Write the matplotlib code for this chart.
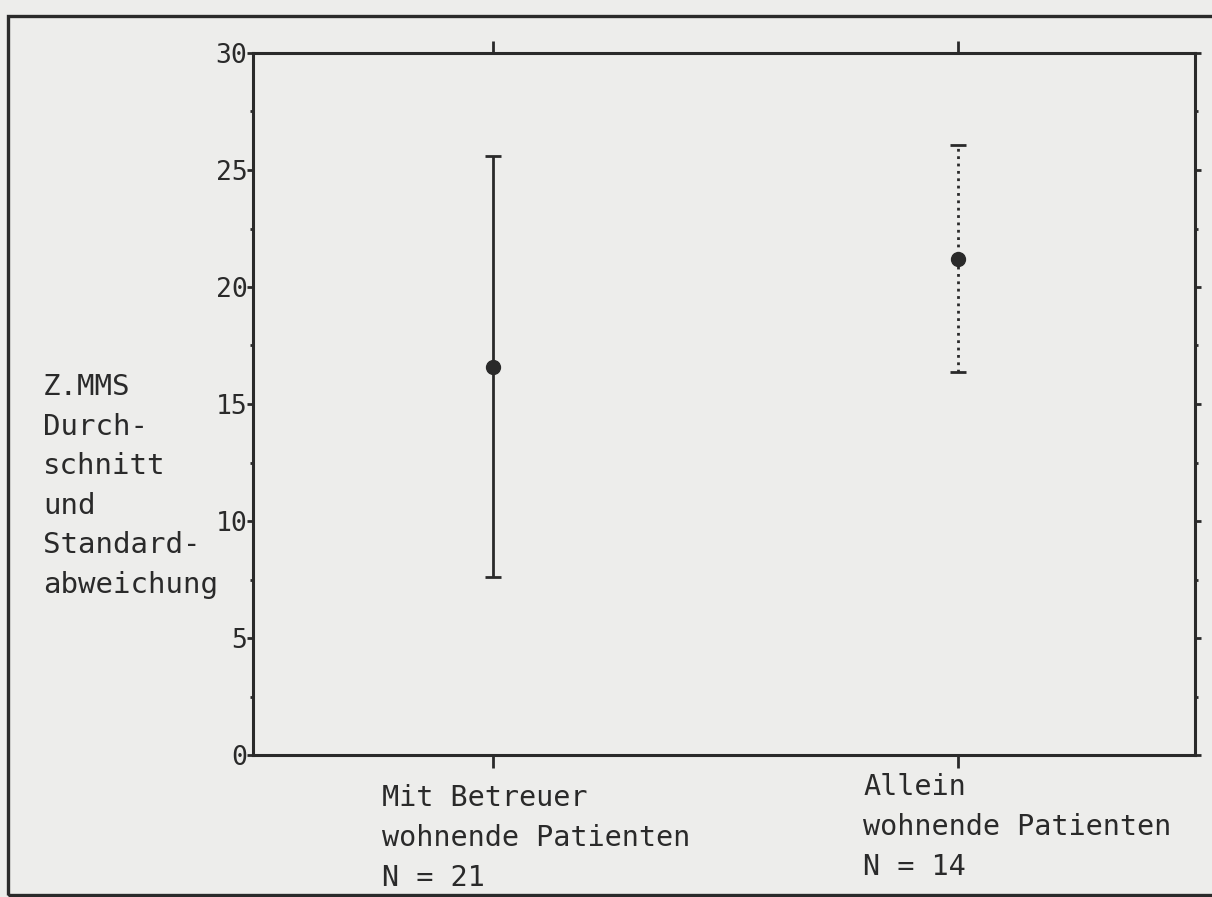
import matplotlib
matplotlib.use('Agg')
import matplotlib.pyplot as plt
from matplotlib.patches import Rectangle

# data
groups = ['Mit Betreuer\nwohnende Patienten\nN = 21',
          'Allein\nwohnende Patienten\nN = 14']
means = [16.6, 21.2]
sds = [9.0, 4.85]
y_ticks = [0, 5, 10, 15, 20, 25, 30]
y_title = ['Z.MMS', 'Durch-', 'schnitt', 'und', 'Standard-', 'abweichung']

W, H = 1212, 897
paper = '#ededeb'
ink = '#2a2a2a'
font = 'DejaVu Sans Mono'

fig = plt.figure(figsize=(W / 100, H / 100), dpi=100, facecolor=paper)
ax = fig.add_axes([253 / W, 1 - 755 / H, (1195 - 253) / W, (755 - 53) / H])
ax.set_facecolor(paper)

xs = [1, 2]
styles = ['-', ':']
for x, m, s, ls in zip(xs, means, sds, styles):
    eb = ax.errorbar(x, m, yerr=s, fmt='o', color=ink, ms=10, capsize=6,
                     capthick=2, elinewidth=2)
    eb[2][0].set_linestyle(ls)

ax.set_xlim(0.484, 2.51)
ax.set_ylim(0, 30)
ax.set_yticks(y_ticks)
ax.set_yticks([v + 2.5 for v in y_ticks[:-1]], minor=True)
ax.set_xticks(xs)
ax.set_xticklabels([])

for sp in ax.spines.values():
    sp.set_linewidth(2.2)
    sp.set_color(ink)

ax.tick_params(axis='y', which='major', direction='out', length=4, width=2,
               color=ink, labelsize=19, labelcolor=ink, pad=0, right=True)
ax.tick_params(axis='y', which='minor', direction='out', length=2, width=2,
               color=ink, right=True)
ax.tick_params(axis='x', which='major', direction='out', length=9, width=2,
               color=ink, top=True)
for lab in ax.get_yticklabels():
    lab.set_family(font)

# left title, one line at a time
for i, line in enumerate(y_title):
    fig.text(43 / W, 1 - (387 + 39.6 * i) / H, line, fontsize=21,
             family=font, color=ink, va='center', ha='left')

# category labels under the axis
label_pos = [(382, 798), (863, 787)]
for (px, py), g in zip(label_pos, groups):
    for i, line in enumerate(g.split('\n')):
        fig.text(px / W, 1 - (py + 40 * i) / H, line, fontsize=20.5,
                 family=font, color=ink, va='center', ha='left')

# outer frame of the page
fig.patches.append(Rectangle((8 / W, 1 - 895 / H), 1.2, (895 - 16) / H,
                             transform=fig.transFigure, fill=False,
                             lw=2.4, ec=ink))

fig.savefig('out.png', dpi=100, facecolor=paper)
